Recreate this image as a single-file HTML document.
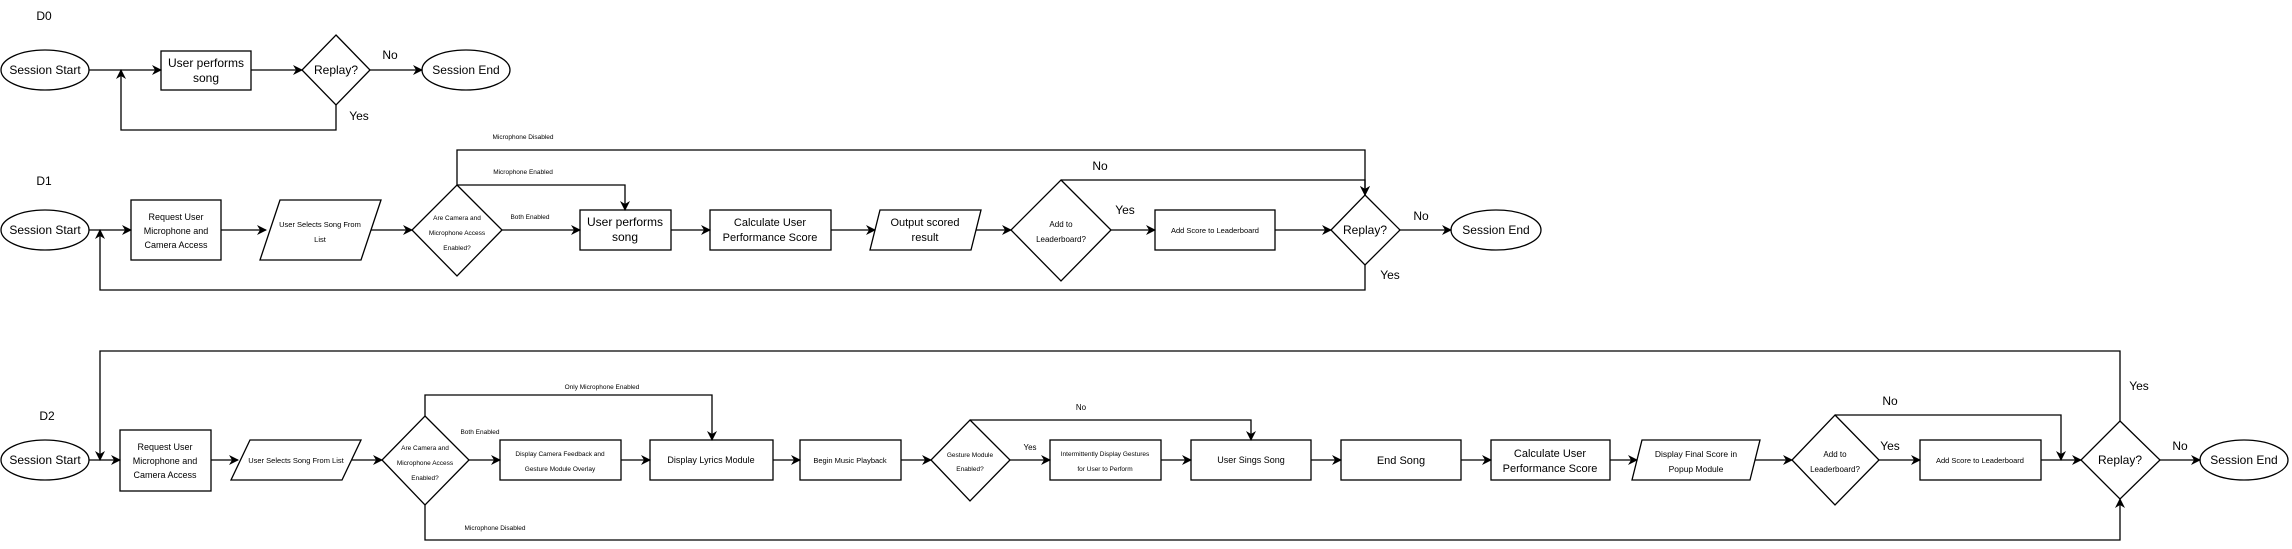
<!DOCTYPE html>
<html><head><meta charset="utf-8"><style>
html,body{margin:0;padding:0;background:#fff;}
svg{display:block;}
text{font-family:"Liberation Sans",Arial,sans-serif;fill:#000;}
</style></head><body>
<svg width="2292" height="549" viewBox="0 0 2292 549" xmlns="http://www.w3.org/2000/svg">
<defs>
<marker id="a" markerWidth="10" markerHeight="10" refX="9" refY="5" orient="auto" markerUnits="userSpaceOnUse">
<path d="M0,0 L10,5 L0,10 L3,5 Z" fill="#000"/>
</marker>
</defs>
<g fill="#fff" stroke="#000" stroke-width="1.3">
<!-- D0 -->
<ellipse cx="45" cy="70" rx="44" ry="20"/>
<rect x="161" y="51" width="90" height="39"/>
<polygon points="336,35 370,70 336,105 302,70"/>
<ellipse cx="466" cy="70" rx="44" ry="20"/>
<!-- D1 -->
<ellipse cx="45" cy="230" rx="44" ry="20"/>
<rect x="131" y="200" width="90" height="60"/>
<polygon points="280,200 381,200 361,260 260,260"/>
<polygon points="457,185 502,230 457,276 412,230"/>
<rect x="580" y="210" width="91" height="40"/>
<rect x="710" y="210" width="121" height="40"/>
<polygon points="880,210 981,210 971,250 870,250"/>
<polygon points="1061,180 1111,230 1061,281 1011,230"/>
<rect x="1155" y="210" width="120" height="40"/>
<polygon points="1365,195 1400,230 1365,265 1331,230"/>
<ellipse cx="1496" cy="230" rx="45" ry="20"/>
<!-- D2 -->
<ellipse cx="45" cy="460" rx="44" ry="20"/>
<rect x="120" y="430" width="91" height="61"/>
<polygon points="250,440 361,440 342,480 231,480"/>
<polygon points="425,416 469,460 425,505 382,460"/>
<rect x="500" y="440" width="121" height="40"/>
<rect x="650" y="440" width="123" height="40"/>
<rect x="800" y="440" width="101" height="40"/>
<polygon points="970,420 1010,460 970,501 931,460"/>
<rect x="1050" y="440" width="111" height="40"/>
<rect x="1191" y="440" width="120" height="40"/>
<rect x="1341" y="440" width="120" height="40"/>
<rect x="1491" y="440" width="119" height="40"/>
<polygon points="1642,440 1760,440 1750,480 1632,480"/>
<polygon points="1835,415 1879,460 1835,505 1792,460"/>
<rect x="1920" y="440" width="121" height="40"/>
<polygon points="2120,421 2160,460 2120,499 2081,460"/>
<ellipse cx="2244" cy="460" rx="44" ry="20"/>
</g>
<g fill="none" stroke="#000" stroke-width="1.3" marker-end="url(#a)">
<!-- D0 -->
<path d="M89,70 H161"/>
<path d="M251,70 H302"/>
<path d="M370,70 H422"/>
<path d="M336,105 V130 H121 V70"/>
<!-- D1 -->
<path d="M89,230 H131"/>
<path d="M221,230 H266"/>
<path d="M371,230 H412"/>
<path d="M502,230 H580"/>
<path d="M457,185 H625 V210"/>
<path d="M457,185 V150 H1365 V195"/>
<path d="M671,230 H710"/>
<path d="M831,230 H875"/>
<path d="M976,230 H1011"/>
<path d="M1061,180 H1365 V195"/>
<path d="M1111,230 H1155"/>
<path d="M1275,230 H1331"/>
<path d="M1400,230 H1451"/>
<path d="M1365,265 V290 H100 V230"/>
<!-- D2 -->
<path d="M89,460 H120"/>
<path d="M211,460 H238"/>
<path d="M352,460 H382"/>
<path d="M469,460 H500"/>
<path d="M425,416 V395 H712 V440"/>
<path d="M621,460 H650"/>
<path d="M773,460 H800"/>
<path d="M901,460 H931"/>
<path d="M1010,460 H1050"/>
<path d="M970,420 H1251 V440"/>
<path d="M1161,460 H1191"/>
<path d="M1311,460 H1341"/>
<path d="M1461,460 H1491"/>
<path d="M1610,460 H1637"/>
<path d="M1755,460 H1792"/>
<path d="M1879,460 H1920"/>
<path d="M1835,415 H2061 V460"/>
<path d="M2041,460 H2081"/>
<path d="M2160,460 H2200"/>
<path d="M2120,421 V351 H100 V460"/>
<path d="M425,505 V540 H2120 V499"/>
</g>
<g text-anchor="middle">
<text x="44" y="20" font-size="12">D0</text>
<text x="45" y="74" font-size="12">Session Start</text>
<text x="206" y="67" font-size="12">User performs</text>
<text x="206" y="82" font-size="12">song</text>
<text x="336" y="74" font-size="12">Replay?</text>
<text x="390" y="59" font-size="12">No</text>
<text x="359" y="120" font-size="12">Yes</text>
<text x="466" y="74" font-size="12">Session End</text>

<text x="44" y="185" font-size="12">D1</text>
<text x="45" y="234" font-size="12">Session Start</text>
<text x="176" y="220" font-size="9">Request User</text>
<text x="176" y="234" font-size="9">Microphone and</text>
<text x="176" y="248" font-size="9">Camera Access</text>
<text x="320" y="227" font-size="7.5">User Selects Song From</text>
<text x="320" y="242" font-size="7.5">List</text>
<text x="457" y="220" font-size="6.5">Are Camera and</text>
<text x="457" y="235" font-size="6.5">Microphone Access</text>
<text x="457" y="250" font-size="6.5">Enabled?</text>
<text x="523" y="139" font-size="6.5">Microphone Disabled</text>
<text x="523" y="174" font-size="6.5">Microphone Enabled</text>
<text x="530" y="219" font-size="6.5">Both Enabled</text>
<text x="625" y="226" font-size="12">User performs</text>
<text x="625" y="241" font-size="12">song</text>
<text x="770" y="226" font-size="11">Calculate User</text>
<text x="770" y="241" font-size="11">Performance Score</text>
<text x="925" y="226" font-size="11">Output scored</text>
<text x="925" y="241" font-size="11">result</text>
<text x="1061" y="227" font-size="8">Add to</text>
<text x="1061" y="242" font-size="8">Leaderboard?</text>
<text x="1100" y="170" font-size="12">No</text>
<text x="1125" y="214" font-size="12">Yes</text>
<text x="1215" y="233" font-size="7.5">Add Score to Leaderboard</text>
<text x="1365" y="234" font-size="12">Replay?</text>
<text x="1421" y="220" font-size="12">No</text>
<text x="1390" y="279" font-size="12">Yes</text>
<text x="1496" y="234" font-size="12">Session End</text>

<text x="47" y="420" font-size="12">D2</text>
<text x="45" y="464" font-size="12">Session Start</text>
<text x="165" y="450" font-size="9">Request User</text>
<text x="165" y="464" font-size="9">Microphone and</text>
<text x="165" y="478" font-size="9">Camera Access</text>
<text x="296" y="463" font-size="7.5">User Selects Song From List</text>
<text x="425" y="450" font-size="6.5">Are Camera and</text>
<text x="425" y="465" font-size="6.5">Microphone Access</text>
<text x="425" y="480" font-size="6.5">Enabled?</text>
<text x="602" y="389" font-size="6.5">Only Microphone Enabled</text>
<text x="480" y="434" font-size="6.5">Both Enabled</text>
<text x="495" y="530" font-size="6.5">Microphone Disabled</text>
<text x="560" y="456" font-size="6.5">Display Camera Feedback and</text>
<text x="560" y="471" font-size="6.5">Gesture Module Overlay</text>
<text x="711" y="463" font-size="9">Display Lyrics Module</text>
<text x="850" y="463" font-size="7.5">Begin Music Playback</text>
<text x="970" y="457" font-size="6.5">Gesture Module</text>
<text x="970" y="471" font-size="6.5">Enabled?</text>
<text x="1081" y="410" font-size="8">No</text>
<text x="1030" y="450" font-size="8">Yes</text>
<text x="1105" y="456" font-size="6.5">Intermittently Display Gestures</text>
<text x="1105" y="471" font-size="6.5">for User to Perform</text>
<text x="1251" y="463" font-size="9">User Sings Song</text>
<text x="1401" y="464" font-size="11">End Song</text>
<text x="1550" y="457" font-size="11">Calculate User</text>
<text x="1550" y="472" font-size="11">Performance Score</text>
<text x="1696" y="457" font-size="8.5">Display Final Score in</text>
<text x="1696" y="472" font-size="8.5">Popup Module</text>
<text x="1835" y="457" font-size="8">Add to</text>
<text x="1835" y="472" font-size="8">Leaderboard?</text>
<text x="1890" y="405" font-size="12">No</text>
<text x="1890" y="450" font-size="12">Yes</text>
<text x="1980" y="463" font-size="7.5">Add Score to Leaderboard</text>
<text x="2120" y="464" font-size="12">Replay?</text>
<text x="2139" y="390" font-size="12">Yes</text>
<text x="2180" y="450" font-size="12">No</text>
<text x="2244" y="464" font-size="12">Session End</text>
</g>
</svg>
</body></html>
